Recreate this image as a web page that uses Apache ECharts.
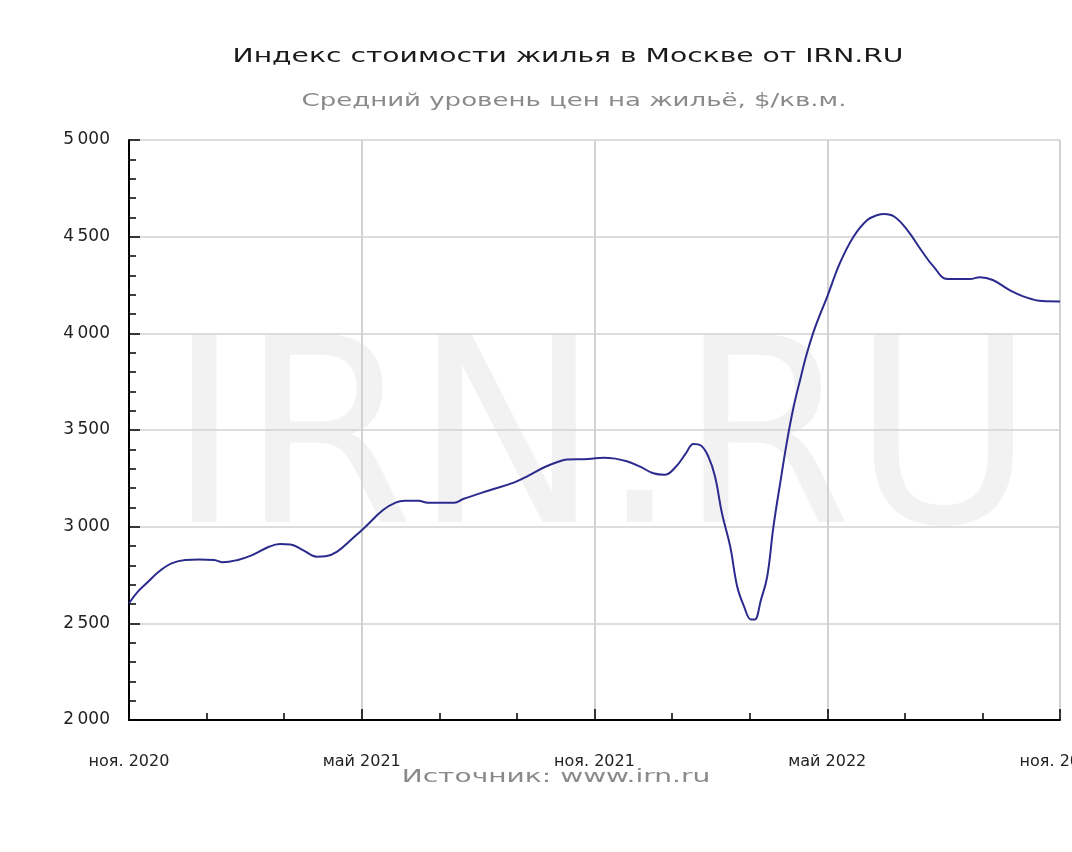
<!DOCTYPE html>
<html>
<head>
<meta charset="utf-8">
<script src="https://cdn.jsdelivr.net/npm/echarts@6/dist/echarts.min.js"></script>
<style>
  html, body { margin: 0; padding: 0; background: #ffffff; }
  #chart { width: 1072px; height: 852px; }
</style>
</head>
<body>
<div id="chart"></div>
<script>
// ---- data ----
const titleText = 'Индекс стоимости жилья в Москве от IRN.RU';
const subtitleText = 'Средний уровень цен на жильё, $/кв.м.';
const sourceText = 'Источник: www.irn.ru';
const watermarkText = 'IRN.RU';

const monthNames = ['янв.', 'фев.', 'мар.', 'апр.', 'май', 'июн.', 'июл.', 'авг.', 'сен.', 'окт.', 'ноя.', 'дек.'];
const axisStart = [2020, 11]; // ноя. 2020
const axisMonths = 24;

const dates = [
  '2020-11-01', '2020-11-08', '2020-11-15', '2020-11-24', '2020-12-04', '2020-12-15', '2020-12-26',
  '2021-01-07', '2021-01-14', '2021-01-26', '2021-02-05', '2021-02-18', '2021-02-26', '2021-03-06',
  '2021-03-16', '2021-03-27', '2021-04-03', '2021-04-12', '2021-04-24', '2021-05-04', '2021-05-18',
  '2021-05-28', '2021-06-04', '2021-06-15', '2021-06-22', '2021-07-13', '2021-07-20', '2021-08-09',
  '2021-08-30', '2021-09-10', '2021-09-23', '2021-10-03', '2021-10-10', '2021-10-27', '2021-11-08',
  '2021-11-17', '2021-11-26', '2021-12-06', '2021-12-17', '2021-12-26', '2022-01-04', '2022-01-12',
  '2022-01-18', '2022-01-24', '2022-01-30', '2022-02-04', '2022-02-09', '2022-02-15', '2022-02-20',
  '2022-02-25', '2022-03-02', '2022-03-05', '2022-03-10', '2022-03-15', '2022-03-20', '2022-03-26',
  '2022-03-31', '2022-04-05', '2022-04-10', '2022-04-15', '2022-04-20', '2022-04-25', '2022-05-01',
  '2022-05-11', '2022-05-22', '2022-06-02', '2022-06-10', '2022-06-15', '2022-06-23', '2022-07-03',
  '2022-07-14', '2022-07-24', '2022-08-04', '2022-08-22', '2022-08-30', '2022-09-09', '2022-09-22',
  '2022-10-05', '2022-10-18', '2022-11-01'
];
const prices = [
  2604, 2665, 2710, 2767, 2810, 2828, 2830,
  2828, 2816, 2828, 2850, 2896, 2910, 2908,
  2879, 2845, 2847, 2871, 2940, 3000, 3086,
  3124, 3134, 3134, 3124, 3124, 3143, 3186,
  3229, 3264, 3310, 3336, 3348, 3350, 3357,
  3352, 3338, 3312, 3276, 3268, 3310, 3379,
  3428, 3420, 3362, 3259, 3069, 2896, 2690,
  2586, 2520, 2520, 2621, 2741, 3000, 3250,
  3448, 3620, 3759, 3890, 4000, 4090, 4190,
  4362, 4500, 4586, 4612, 4617, 4603, 4534,
  4431, 4345, 4281, 4281, 4290, 4276, 4224,
  4186, 4167, 4165
];

const yMin = 2000, yMax = 5000, yStep = 500;

// ---- helpers ----
function monthOffset(d) {
  const [y, m, day] = d.split('-').map(Number);
  const dim = new Date(y, m, 0).getDate();
  return (y - axisStart[0]) * 12 + (m - axisStart[1]) + (day - 1) / dim;
}
function monthLabel(v) {
  const total = axisStart[1] - 1 + Math.round(v);
  const y = axisStart[0] + Math.floor(total / 12);
  const m = ((total % 12) + 12) % 12;
  return monthNames[m] + ' ' + y;
}
function numLabel(v) {
  return String(v).replace(/\B(?=(\d{3})+(?!\d))/g, '\u2009');
}

const seriesData = dates.map((d, i) => [monthOffset(d), prices[i]]);

const chart = echarts.init(document.getElementById('chart'), null, { renderer: 'canvas' });
const labelFont = 'DejaVu Sans';

chart.setOption({
  animation: false,
  backgroundColor: '#ffffff',
  grid: { left: 129, right: 12, top: 140, bottom: 132, containLabel: false, outerBoundsMode: 'none' },
  graphic: [
    {
      type: 'text', x: 601, y: 455, z: -10, silent: true, scaleX: 0.965,
      style: { text: watermarkText, fontFamily: 'DejaVu Sans', fontSize: 258, fill: '#f2f2f2', align: 'center', verticalAlign: 'middle' }
    },
    {
      type: 'text', x: 568, y: 57, scaleX: 1.41,
      style: { text: titleText, fontFamily: 'DejaVu Sans', fontSize: 20, fill: '#1a1a1a', align: 'center', verticalAlign: 'middle' }
    },
    {
      type: 'text', x: 574, y: 101, scaleX: 1.445,
      style: { text: subtitleText, fontFamily: 'DejaVu Sans', fontSize: 18, fill: '#8a8a8a', align: 'center', verticalAlign: 'middle' }
    },
    {
      type: 'text', x: 556, y: 777, scaleX: 1.56,
      style: { text: sourceText, fontFamily: 'DejaVu Sans', fontSize: 18, fill: '#8a8a8a', align: 'center', verticalAlign: 'middle' }
    }
  ],
  xAxis: [
    {
      type: 'value', min: 0, max: axisMonths, interval: 6, position: 'bottom',
      axisLine: { show: true, onZero: false, lineStyle: { color: '#000000', width: 2 } },
      axisTick: { show: true, inside: true, length: 11, lineStyle: { color: '#000000', width: 1.5 } },
      axisLabel: {
        show: true, margin: 34, formatter: monthLabel, showMaxLabel: true, showMinLabel: true,
        fontFamily: labelFont, fontSize: 16, color: '#222222', hideOverlap: false
      },
      splitLine: { show: true, lineStyle: { color: '#d2d2d2', width: 2 } }
    },
    {
      type: 'value', min: 0, max: axisMonths, interval: 2, position: 'bottom',
      axisLine: { show: false, onZero: false },
      axisTick: { show: true, inside: true, length: 7, lineStyle: { color: '#000000', width: 1.5 } },
      axisLabel: { show: false },
      splitLine: { show: false }
    }
  ],
  yAxis: {
    type: 'value', min: yMin, max: yMax, interval: yStep,
    axisLine: { show: true, onZero: false, lineStyle: { color: '#000000', width: 2 } },
    axisTick: { show: true, inside: true, length: 11, lineStyle: { color: '#000000', width: 1.5 } },
    minorTick: { show: true, splitNumber: 5, length: 7, lineStyle: { color: '#000000', width: 1.5 } },
    axisLabel: { margin: 19, formatter: numLabel, fontFamily: labelFont, fontSize: 17, color: '#222222' },
    splitLine: { show: true, lineStyle: { color: '#d2d2d2', width: 1.5 } }
  },
  series: [
    {
      type: 'line', xAxisIndex: 0, yAxisIndex: 0, data: seriesData,
      showSymbol: false, smooth: 0.4, z: 5,
      lineStyle: { color: '#2b2b8e', width: 2 }
    }
  ]
});
</script>
</body>
</html>
